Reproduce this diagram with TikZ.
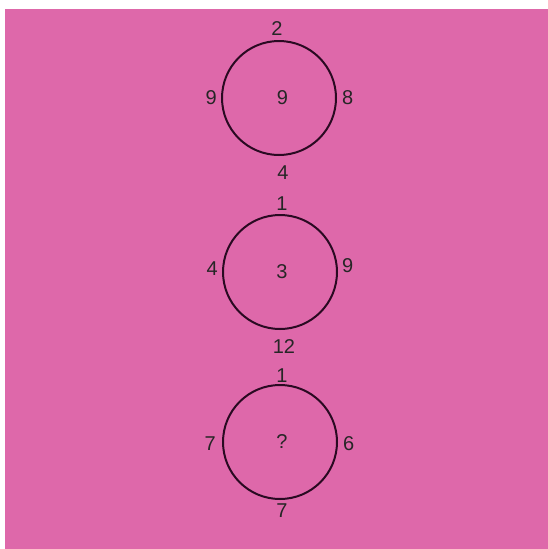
\documentclass[tikz,border=0pt]{standalone}
\usepackage{fontspec}
\setmainfont{Liberation Sans}
\usetikzlibrary{positioning}
\definecolor{PuzzlePink}{HTML}{DE68AA}
\definecolor{RingLine}{HTML}{2A0A22}

\begin{document}
\begin{tikzpicture}[x=1pt,y=-1pt,
  ring/.style={circle, draw=RingLine, line width=2pt, minimum size=114pt, inner sep=0pt},
  num/.style={inner sep=0pt, font=\fontsize{20}{20}\selectfont, text=black!85}]
  % background
  \fill[white] (0,0) rectangle (548,549);
  \fill[PuzzlePink] (5,9) rectangle (548,549);
  % top circle
  \node[ring] (top) at (279,98) {};
  \node[num] (topC) at (282.5,98) {9};
  \node[num, above=4pt of top, xshift=-2pt] (topN) {2};
  \node[num, left=4pt of top] (topW) {9};
  \node[num, right=5pt of top] (topE) {8};
  \node[num, below=10pt of top, xshift=4pt] (topS) {4};
  % middle circle
  \node[ring] (mid) at (280,272) {};
  \node[num] (midC) at (282,272) {3};
  \node[num, above=3pt of mid, xshift=2pt] (midN) {1};
  \node[num, left=4pt of mid, yshift=3pt] (midW) {4};
  \node[num, right=4pt of mid, yshift=6pt] (midE) {9};
  \node[num, below=9pt of mid, xshift=4pt] (midS) {12};
  % bottom circle
  \node[ring] (bot) at (280,442) {};
  \node[num] (botC) at (282,442) {?};
  \node[num, above=1pt of bot, xshift=2pt] (botN) {1};
  \node[num, left=6pt of bot, yshift=-2pt] (botW) {7};
  \node[num, right=5pt of bot, yshift=-2pt] (botE) {6};
  \node[num, below=4pt of bot, xshift=2pt] (botS) {7};
\end{tikzpicture}
\end{document}
